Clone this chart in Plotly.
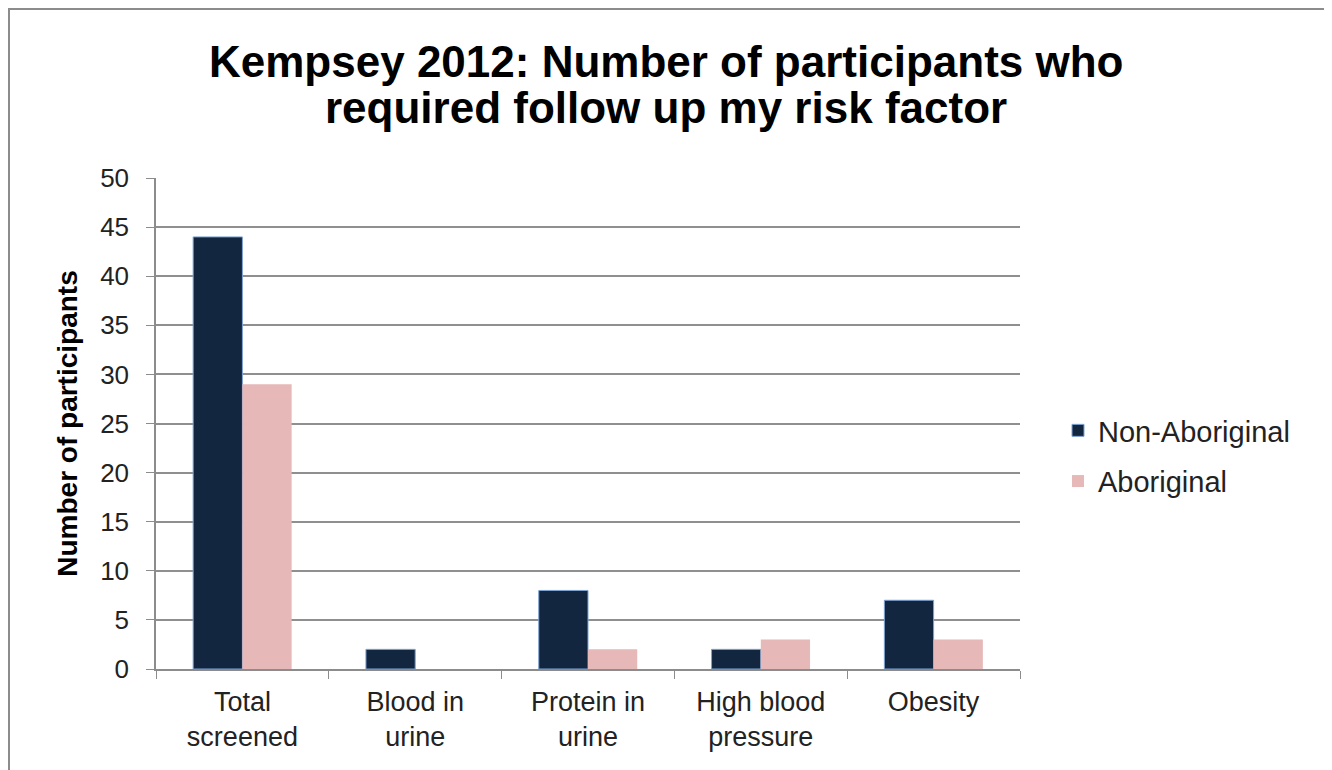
import plotly.graph_objects as go

categories = ["Total<br>screened", "Blood in<br>urine", "Protein in<br>urine", "High blood<br>pressure", "Obesity"]
non_aboriginal = [44, 2, 8, 2, 7]
aboriginal = [29, 0, 2, 3, 3]
y_ticks = [0, 5, 10, 15, 20, 25, 30, 35, 40, 45, 50]
title_lines = ["Kempsey 2012: Number of participants who", "required follow up my risk factor"]

# page body has an 8px margin; work in figure coordinates
OFF = 8
W, H = 1332 - OFF, 770 - OFF
L, R, T, B = 156 - OFF, 1020 - OFF, 178 - OFF, 669 - OFF

fig = go.Figure()
fig.add_trace(go.Bar(x=categories, y=non_aboriginal, name="Non-Aboriginal", legendgroup="a",
                     marker=dict(color="#12263F", line=dict(color="#7FA3D3", width=1))))
fig.add_trace(go.Bar(x=categories, y=aboriginal, name="Aboriginal", legendgroup="b",
                     marker=dict(color="#E6B9B8", line=dict(width=0))))

pw, ph = R - L, B - T
def px(x): return (x - L) / pw
def py(y): return (B - y) / ph

annotations = [
    dict(text="<b>%s</b>" % title_lines[0], x=px(666 - OFF), y=py(61 - OFF), xref="paper", yref="paper",
         xanchor="center", yanchor="middle", showarrow=False, font=dict(size=44, color="black")),
    dict(text="<b>%s</b>" % title_lines[1], x=px(666 - OFF), y=py(107 - OFF), xref="paper", yref="paper",
         xanchor="center", yanchor="middle", showarrow=False, font=dict(size=44, color="black")),
]

fig.update_layout(
    width=W, height=H,
    margin=dict(l=L, r=W - R, t=T, b=H - B, pad=0),
    paper_bgcolor="white", plot_bgcolor="white",
    font=dict(family="Liberation Sans, Arial, sans-serif", color="#222", size=27),
    barmode="group", bargap=0.43, bargroupgap=0,
    showlegend=True,
    legend=dict(x=px(1050), y=py(397), xanchor="left", yanchor="top",
                font=dict(size=29, color="#222"), tracegroupgap=10,
                itemwidth=30, bgcolor="rgba(0,0,0,0)"),
    xaxis=dict(showgrid=False, showline=True, linecolor="#8c8c8c", linewidth=1.5,
               ticks="outside", ticklen=8, tickcolor="#8c8c8c", tickson="boundaries",
               ticklabelstandoff=8,
               tickfont=dict(size=27, color="#222")),
    yaxis=dict(range=[0, 50], tickvals=y_ticks, showgrid=True, gridcolor="#8f8f8f", gridwidth=1.5,
               showline=True, linecolor="#8c8c8c", linewidth=1.5, zeroline=False,
               ticks="outside", ticklen=8, tickcolor="#8c8c8c", ticklabelstandoff=12,
               tickfont=dict(size=26, color="#222"),
               title=dict(text="<b>Number of participants</b>", font=dict(size=28, color="black"), standoff=14)),
    annotations=annotations,
    shapes=[dict(type="rect", xref="paper", yref="paper",
                 x0=px(0.5), x1=px(1319), y0=py(0.5), y1=py(790),
                 line=dict(color="#8c8c8c", width=3), fillcolor="rgba(0,0,0,0)", layer="below")],
)

fig.write_html("out.html")
